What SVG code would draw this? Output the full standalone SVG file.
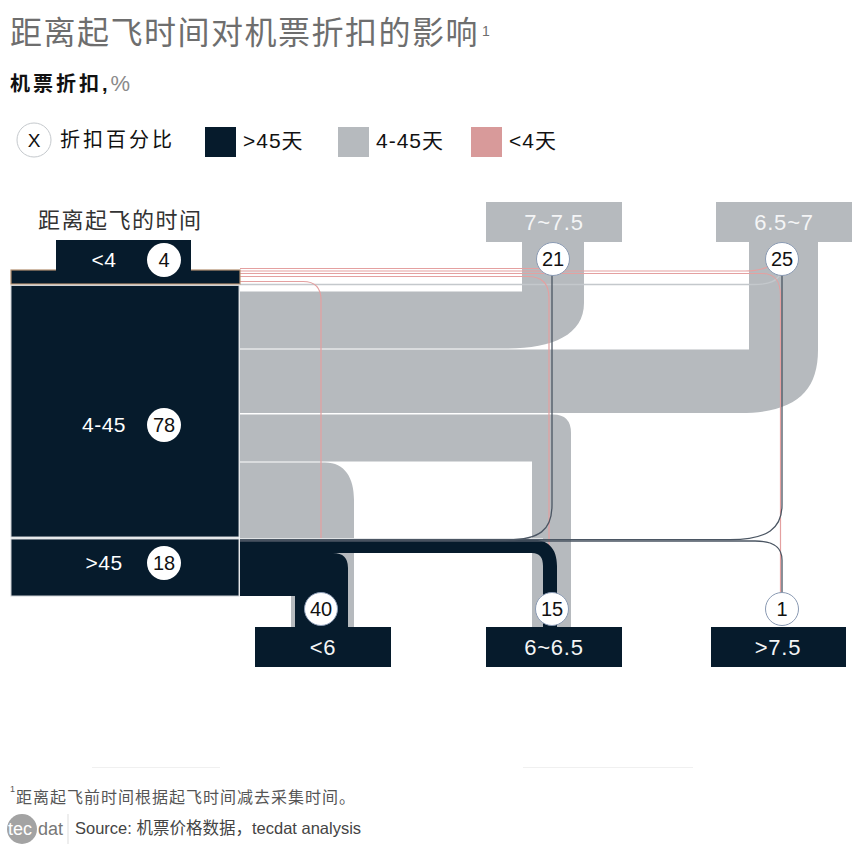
<svg xmlns="http://www.w3.org/2000/svg" width="862" height="849" viewBox="0 0 862 849">
<style>
text{font-family:"Liberation Sans","Noto Sans CJK SC",sans-serif;}
.dark{fill:#061b2c}
.grayf{fill:#b6babe}
.pk{fill:none;stroke:#e4a0a0;stroke-width:1.2}
.dl{fill:none;stroke:#4b5663;stroke-width:1.3}
.lbl{fill:#fff;font-size:21px;text-anchor:middle;letter-spacing:0.5px}
.tl{fill:#f4f5f6;font-size:22px;text-anchor:middle;letter-spacing:0.8px}
.num{fill:#111;font-size:20px;text-anchor:middle}
.tc{stroke:#8a9ab3;stroke-width:1;fill:#fff}
.sc{fill:#fff}
.leg{font-size:21px;fill:#111;letter-spacing:1px}
</style>
<rect width="862" height="849" fill="#fff"/>

<g id="title">
<text x="10" y="44" font-size="32" fill="#6e6e6e" letter-spacing="1.5">距离起飞时间对机票折扣的影响</text>
<text x="482" y="36" font-size="14" fill="#6e6e6e">1</text>
<text x="10" y="91" font-size="20" font-weight="bold" letter-spacing="3" fill="#111">机票折扣,<tspan fill="#8a8a8a" font-weight="normal" font-size="22">%</tspan></text>
</g>

<g id="legend">
<circle cx="34" cy="140" r="17" fill="#fff" stroke="#c5c9cd"/>
<text x="34" y="147" font-size="19" text-anchor="middle" fill="#111">X</text>
<text x="60" y="147" font-size="20" letter-spacing="3" fill="#111">折扣百分比</text>
<rect x="205" y="127" width="31" height="30" class="dark"/>
<text x="243" y="148" class="leg">&gt;45天</text>
<rect x="338" y="127" width="31" height="30" class="grayf"/>
<text x="376" y="148" class="leg">4-45天</text>
<rect x="471" y="127" width="31" height="30" fill="#d89a9a"/>
<text x="509" y="148" class="leg">&lt;4天</text>
</g>

<text x="38" y="228" font-size="22" letter-spacing="1.5" fill="#333">距离起飞的时间</text>

<g id="connectors">
<path class="grayf" d="M240,291.5 H522 V242 H584 V303 C584,335 552,348.5 507,348.5 H240 Z"/>
<path class="grayf" d="M240,349.5 H749 V242 H818 V350 C818,392 795,413 740,413 H240 Z"/>
<path class="grayf" d="M240,414.5 H553 Q571,414.5 571,433 V627 H532 V461.5 H240 Z"/>
<path class="grayf" d="M240,462.5 H325 C345,462.5 354,478 354,500 V627 H291 V596 H240 Z"/>
<path d="M240,284.5 H753 C770,284.5 778,281 781,272" fill="none" stroke="#c4c8cc" stroke-width="1.3"/>
<path class="pk" d="M240,268.5 H545"/>
<path class="pk" d="M240,271 H745 C760,271 766,268 770,266"/>
<path class="pk" d="M240,273.5 H762 C776,273.5 780.5,282 780.5,296 V609"/>
<path class="pk" d="M240,276.5 H528 C542,276.5 549,284 549,298 V627"/>
<path class="pk" d="M240,281.5 H303 C316,281.5 321,288 321,300 V609"/>
<line x1="240" y1="538.6" x2="543" y2="538.6" stroke="#e4e6e8" stroke-width="1"/>
<path class="dark" d="M240,553 H333 Q348,553 348,568 V627 H295 V596 H240 Z"/>
<path class="dark" d="M240,539.2 H530 C548,539.2 557,548 557,566 V627 H543 V566 C543,558 540,553 532,553 H240 Z"/>
<path class="dl" d="M240,540 H505 C540,540 552,530 552,505 V272"/>
<path class="dl" d="M240,539.6 H730 C768,539.6 782,528 782,505 V272"/>
<path class="dl" d="M240,541 H755 C775,541 782,548 782,560 V600"/>
</g>

<g id="src-lt4">
<rect x="11" y="270" width="229" height="14" class="dark" stroke="#b28f70" stroke-width="1.2"/>
<rect x="56" y="240" width="135" height="31" class="dark"/>
<text x="104" y="267" class="lbl">&lt;4</text>
<circle cx="164" cy="260" r="17" class="sc"/>
<text x="164" y="267" class="num">4</text>
</g>
<g id="src-4-45">
<rect x="11" y="285.5" width="228" height="251.5" class="dark" stroke="#cdd1d5" stroke-width="1"/>
<text x="104" y="432" class="lbl">4-45</text>
<circle cx="164" cy="425" r="17" class="sc"/>
<text x="164" y="432" class="num">78</text>
</g>
<g id="src-gt45">
<rect x="11" y="539" width="228" height="57" class="dark" stroke="#cdd1d5" stroke-width="1"/>
<text x="104" y="570" class="lbl">&gt;45</text>
<circle cx="164" cy="563" r="17" class="sc"/>
<text x="164" y="570" class="num">18</text>
</g>

<g id="tgt-7-7.5">
<rect x="486" y="202" width="136" height="40" class="grayf"/>
<text x="554" y="230" class="tl">7~7.5</text>
<circle cx="553" cy="259" r="16.5" class="tc"/>
<text x="553" y="266" class="num">21</text>
</g>
<g id="tgt-6.5-7">
<rect x="716" y="202" width="136" height="40" class="grayf"/>
<text x="784" y="230" class="tl">6.5~7</text>
<circle cx="782" cy="259" r="16.5" class="tc"/>
<text x="782" y="266" class="num">25</text>
</g>
<g id="tgt-lt6">
<rect x="255" y="627" width="136" height="40" class="dark"/>
<text x="323" y="655" class="tl">&lt;6</text>
<circle cx="321" cy="609" r="16.5" class="tc"/>
<text x="321" y="616" class="num">40</text>
</g>
<g id="tgt-6-6.5">
<rect x="486" y="627" width="136" height="40" class="dark"/>
<text x="554" y="655" class="tl">6~6.5</text>
<circle cx="552" cy="609" r="16.5" class="tc"/>
<text x="552" y="616" class="num">15</text>
</g>
<g id="tgt-gt7.5">
<rect x="711" y="627" width="135" height="40" class="dark"/>
<text x="778" y="655" class="tl">&gt;7.5</text>
<circle cx="782" cy="609" r="16.5" class="tc"/>
<text x="782" y="616" class="num">1</text>
</g>

<g id="footer">
<line x1="92" y1="767.5" x2="220" y2="767.5" stroke="#f0f0f0"/>
<line x1="523" y1="767.5" x2="693" y2="767.5" stroke="#f0f0f0"/>
<text x="10" y="792" font-size="9" fill="#555">1</text>
<text x="16" y="803" font-size="16" fill="#555" letter-spacing="1">距离起飞前时间根据起飞时间减去采集时间。</text>
<circle cx="22" cy="829" r="15" fill="#a3a3a3"/>
<text x="8" y="835" font-size="18" fill="#fff">tec</text>
<text x="38" y="835" font-size="18" fill="#777">dat</text>
<line x1="68" y1="814" x2="68" y2="844" stroke="#dddddd"/>
<text x="75" y="834" font-size="16.5" fill="#444">Source:  机票价格数据，tecdat analysis</text>
</g>
</svg>
